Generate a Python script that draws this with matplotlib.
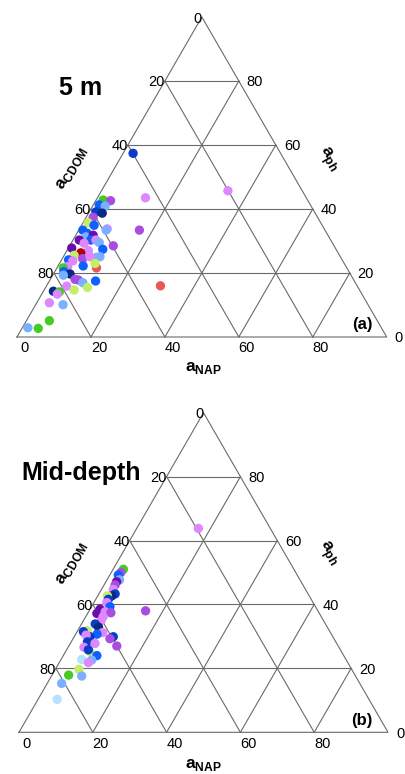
import numpy as np
import matplotlib
matplotlib.use('Agg')
import matplotlib.pyplot as plt

plt.rcParams['font.family'] = ['Liberation Sans', 'DejaVu Sans']
plt.rcParams['mathtext.fontset'] = 'custom'
plt.rcParams['mathtext.rm'] = 'Liberation Sans'
plt.rcParams['mathtext.bf'] = 'Liberation Sans:bold'

# ---------------- data ----------------
grid_levels = [20, 40, 60, 80]
tick_values = [0, 20, 40, 60, 80]

palette = {
    'DB': '#0a3cc8', 'B': '#1060ff', 'LB': '#7ab0ff', 'VLB': '#b4e2ff',
    'G': '#44cc22', 'LG': '#c4ee66', 'DP': '#6a0dad', 'P': '#a84de0',
    'LV': '#dd88ff', 'DR': '#b00000', 'R': '#e85858', 'N': '#0a2a80',
}

# Panel (a) 5 m : percentages of a_NAP and a_ph (a_CDOM = remainder)
top_nap = [2.7, 34.2, 13.0, 1.9, 4.0, 1.6, 3.4, 1.8, 3.7, 1.9,
           1.4, 3.4, 7.5, 7.4, 16.4, 1.1, 2.8, 3.0, 4.7, 4.8,
           1.7, 6.2, 7.5, 11.8, 0.9, 3.5, 5.8, 4.1, 9.5, 2.7,
           1.9, 3.2, 5.5, 9.9, 9.1, 7.2, 6.8, 10.7, 9.6, 2.7,
           1.7, 2.5, 4.5, 2.9, 6.7, 7.7, 9.3, 12.5, 5.5, 11.3,
           8.1, 2.7, 4.4, 4.2, 30.8, 3.4, 7.4, 6.2, 4.4, 1.5]
top_ph = [57.4, 45.7, 43.5, 42.8, 42.6, 41.3, 40.9, 39.1, 38.7, 37.4,
          35.7, 34.9, 33.8, 33.4, 33.4, 33.4, 32.4, 31.3, 31.8, 30.3,
          30.3, 30.3, 29.5, 28.5, 27.8, 29.3, 27.0, 26.3, 27.4, 25.5,
          24.1, 23.8, 24.5, 25.1, 24.9, 25.1, 22.2, 21.6, 23.0, 22.0,
          21.6, 20.4, 19.7, 19.3, 18.0, 17.8, 17.0, 17.5, 15.9, 15.5,
          14.7, 14.3, 14.1, 13.4, 16.0, 10.7, 10.1, 5.1, 2.7, 2.9]
top_cdom = [round(100 - n - p, 1) for n, p in zip(top_nap, top_ph)]
top_color = ['DB', 'LV', 'LV', 'G', 'P', 'B', 'LB', 'DB', 'N', 'P',
             'LG', 'B', 'LV', 'LB', 'P', 'B', 'B', 'LB', 'DP', 'B',
             'DP', 'LV', 'LB', 'P', 'DP', 'LV', 'LV', 'DR', 'B', 'LG',
             'B', 'LV', 'P', 'LB', 'LB', 'LV', 'B', 'R', 'LG', 'LV',
             'G', 'B', 'N', 'LB', 'P', 'P', 'LB', 'B', 'LV', 'LG',
             'LG', 'N', 'G', 'LV', 'R', 'LV', 'LB', 'G', 'G', 'LB']

# Panel (b) Mid-depth
mid_nap = [16.7, 2.8, 2.6, 2.3, 3.4, 2.9, 3.0, 3.2, 4.4, 3.8,
           2.6, 3.4, 3.5, 5.0, 2.7, 2.5, 4.5, 6.2, 15.3, 4.7,
           4.8, 3.7, 5.1, 2.6, 1.7, 7.1, 5.8, 4.3, 3.0, 10.6,
           10.0, 4.4, 6.7, 4.3, 13.0, 6.5, 5.9, 9.1, 5.6, 8.4,
           7.9, 6.4, 4.5, 8.2, 3.9, 5.2]
mid_ph = [63.8, 51.0, 50.0, 49.2, 47.7, 47.1, 46.1, 44.7, 43.3, 42.7,
          42.7, 41.6, 40.6, 39.3, 38.5, 37.2, 37.7, 37.4, 38.0, 36.2,
          34.9, 33.9, 32.9, 31.8, 31.5, 31.2, 30.7, 29.9, 30.4, 29.9,
          29.3, 28.3, 27.8, 26.6, 27.0, 25.3, 25.8, 24.0, 22.8, 22.6,
          21.8, 19.7, 17.9, 17.6, 15.3, 10.3]
mid_cdom = [round(100 - n - p, 1) for n, p in zip(mid_nap, mid_ph)]
mid_color = ['LV', 'G', 'P', 'B', 'LB', 'DP', 'P', 'LV', 'DB', 'N',
             'LG', 'DB', 'LV', 'B', 'DP', 'DP', 'LV', 'P', 'P', 'LV',
             'LV', 'DB', 'N', 'LG', 'DB', 'LV', 'B', 'DB', 'LV', 'DB',
             'P', 'DB', 'LV', 'LV', 'P', 'LG', 'DB', 'B', 'VLB', 'LB',
             'LV', 'LG', 'G', 'LB', 'LB', 'VLB']

H = np.sqrt(3) / 2


def tern(nap, ph):
    nap = np.asarray(nap, float) / 100.0
    ph = np.asarray(ph, float) / 100.0
    return nap + ph / 2.0, ph * H


def draw_panel(ax, nap, ph, colors):
    ax.set_xlim(0, 1)
    ax.set_ylim(0, H)
    ax.axis('off')
    lc = '#6a6a6a'
    lw = 0.8
    # outline
    ox, oy = tern([0, 100, 0, 0], [0, 0, 100, 0])
    ax.plot(ox, oy, color=lc, lw=lw, clip_on=False, zorder=1)
    for k in grid_levels:
        for a, b in [((0, k), (100 - k, k)),          # constant ph
                     ((k, 0), (k, 100 - k)),          # constant nap
                     ((100 - k, 0), (0, 100 - k))]:   # constant cdom
            gx, gy = tern([a[0], b[0]], [a[1], b[1]])
            ax.plot(gx, gy, color=lc, lw=lw, clip_on=False, zorder=1)
    # tick labels
    for v in tick_values:
        # CDOM on left edge
        lx, ly = tern(0, 100 - v)
        ax.annotate(str(v), (lx, ly), xytext=(0, 0), textcoords='offset pixels',
                    ha='right', va='center_baseline', fontsize=10.5,
                    annotation_clip=False)
        # ph on right edge
        rx, ry = tern(100 - v, v)
        ax.annotate(str(v), (rx, ry), xytext=(8, 0), textcoords='offset pixels',
                    ha='left', va='center_baseline', fontsize=10.5,
                    annotation_clip=False)
        # NAP on bottom
        bx, by = tern(v, 0)
        ax.annotate(str(v), (bx, by), xytext=(8, -10), textcoords='offset pixels',
                    ha='center', va='center_baseline', fontsize=10.5,
                    annotation_clip=False)
    px, py = tern(nap, ph)
    ax.scatter(px, py, s=45, c=[palette[c] for c in colors], linewidths=0,
               zorder=3, clip_on=False)


fig = plt.figure(figsize=(4.06, 7.74), dpi=100)
ax1 = fig.add_axes([17 / 406, 437 / 774, 369.7 / 406, 320 / 774])
ax2 = fig.add_axes([19 / 406, 41.7 / 774, 369 / 406, 319.6 / 774])

draw_panel(ax1, top_nap, top_ph, top_color)
draw_panel(ax2, mid_nap, mid_ph, mid_color)

lab_kw = dict(fontsize=12.5, ha='center', va='center')
# panel (a) labels
fig.text(81 / 406, 1 - 88 / 774, '5 m', fontsize=18, fontweight='bold',
         ha='center', va='center')
fig.text(204 / 406, 1 - 368 / 774, r'$\mathbf{a}_{\mathbf{NAP}}$', **lab_kw)
fig.text(72 / 406, 1 - 168 / 774, r'$\mathbf{a}_{\mathbf{CDOM}}$', rotation=60, **lab_kw)
fig.text(328 / 406, 1 - 159 / 774, r'$\mathbf{a}_{\mathbf{ph}}$', rotation=-60, **lab_kw)
fig.text(362 / 406, 1 - 325 / 774, '(a)', fontsize=12, fontweight='bold',
         ha='center', va='center')
# panel (b) labels
fig.text(81 / 406, 1 - 473 / 774, 'Mid-depth', fontsize=18, fontweight='bold',
         ha='center', va='center')
fig.text(204 / 406, 1 - 765 / 774, r'$\mathbf{a}_{\mathbf{NAP}}$', **lab_kw)
fig.text(72 / 406, 1 - 563 / 774, r'$\mathbf{a}_{\mathbf{CDOM}}$', rotation=60, **lab_kw)
fig.text(328 / 406, 1 - 553 / 774, r'$\mathbf{a}_{\mathbf{ph}}$', rotation=-60, **lab_kw)
fig.text(362 / 406, 1 - 720 / 774, '(b)', fontsize=12, fontweight='bold',
         ha='center', va='center')

fig.savefig('out.png', dpi=100)
